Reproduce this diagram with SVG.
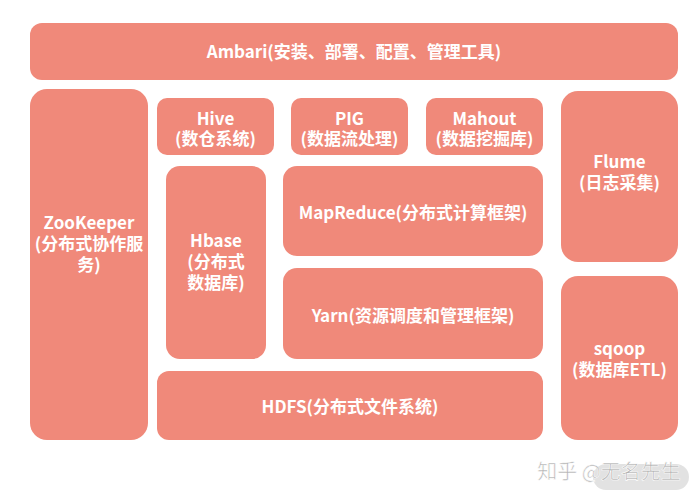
<svg xmlns="http://www.w3.org/2000/svg" width="700" height="500" viewBox="0 0 700 500">
<style>
.box{fill:#F0897A}
.t{fill:#FFFFFF;font-family:"Noto Sans CJK SC","Noto Sans",sans-serif;font-weight:bold;font-size:17px;text-anchor:middle;dominant-baseline:central}
.wm{fill:#B0B0B0;font-family:"Noto Sans CJK SC","Noto Sans",sans-serif;font-size:20px;text-anchor:middle;dominant-baseline:central;stroke:#ffffff;stroke-width:0.6}
</style>
<rect width="700" height="500" fill="#FFFFFF"/>
<g id="ambari"><rect class="box" x="30" y="23" width="648" height="57" rx="12"/><text class="t" x="354" y="50">Ambari(安装、部署、配置、管理工具)</text></g>
<g id="zookeeper"><rect class="box" x="30" y="89" width="118" height="351" rx="17"/><text class="t" x="89" y="221">ZooKeeper<tspan x="89" dy="21">(分布式协作服</tspan><tspan x="89" dy="21">务)</tspan></text></g>
<g id="hive"><rect class="box" x="157" y="98" width="117" height="57" rx="10"/><text class="t" x="215.5" y="117">Hive<tspan x="215.5" dy="20">(数仓系统)</tspan></text></g>
<g id="pig"><rect class="box" x="291" y="98" width="117" height="57" rx="10"/><text class="t" x="349.5" y="117">PIG<tspan x="349.5" dy="20">(数据流处理)</tspan></text></g>
<g id="mahout"><rect class="box" x="426" y="98" width="117" height="57" rx="10"/><text class="t" x="484.5" y="117">Mahout<tspan x="484.5" dy="20">(数据挖掘库)</tspan></text></g>
<g id="flume"><rect class="box" x="561" y="91" width="117" height="171" rx="17"/><text class="t" x="619.5" y="160">Flume<tspan x="619.5" dy="21">(日志采集)</tspan></text></g>
<g id="hbase"><rect class="box" x="166" y="166" width="100" height="193" rx="14"/><text class="t" x="216" y="239">Hbase<tspan x="216" dy="21">(分布式</tspan><tspan x="216" dy="21">数据库)</tspan></text></g>
<g id="mapreduce"><rect class="box" x="283" y="166" width="260" height="90" rx="14"/><text class="t" x="413" y="211">MapReduce(分布式计算框架)</text></g>
<g id="yarn"><rect class="box" x="283" y="268" width="260" height="91" rx="14"/><text class="t" x="413" y="314">Yarn(资源调度和管理框架)</text></g>
<g id="hdfs"><rect class="box" x="157" y="371" width="386" height="69" rx="12"/><text class="t" x="350" y="405">HDFS(分布式文件系统)</text></g>
<g id="sqoop"><rect class="box" x="561" y="276" width="117" height="164" rx="17"/><text class="t" x="619.5" y="347">sqoop<tspan x="619.5" dy="21">(数据库ETL)</tspan></text></g>
<g id="connectors"></g>
<g id="watermark"><rect x="593" y="464" width="96" height="26" rx="13" fill="#D6D6D6" opacity="0.7"/><text class="wm" x="609" y="470">知乎 @无名先生</text></g>
</svg>
